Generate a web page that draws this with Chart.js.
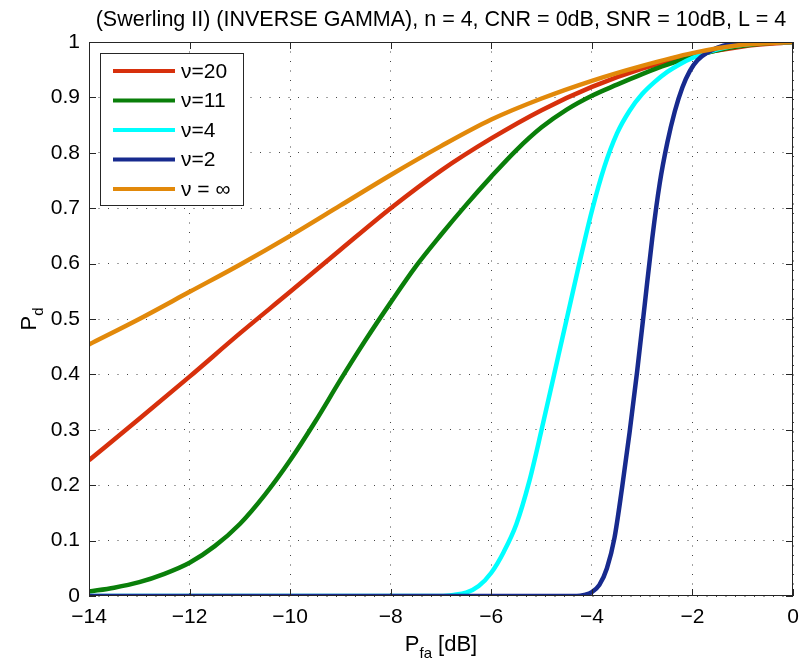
<!DOCTYPE html>
<html>
<head>
<meta charset="utf-8">
<script src="https://cdn.jsdelivr.net/npm/chart.js@4/dist/chart.umd.min.js"></script>
<style>
  html, body { margin: 0; padding: 0; background: #fff; }
  canvas { display: block; }
</style>
</head>
<body>
<canvas id="c" width="801" height="664"></canvas>
<script>
// ---- data ----
const titleText = "(Swerling II) (INVERSE GAMMA), n = 4, CNR = 0dB, SNR = 10dB, L = 4";
const seriesLabels = ["\u03bd=20", "\u03bd=11", "\u03bd=4", "\u03bd=2", "\u03bd = \u221e"];
const seriesColors = ["#d7300c", "#0a7f0a", "#00ffff", "#172a8e", "#e2890a"];

const xNu20 = [-14,-13,-12,-11,-10,-9,-8,-7,-6,-5,-4,-3,-2,-1,0];
const yNu20 = [0.245,0.32,0.396,0.474,0.549,0.625,0.70,0.768,0.826,0.877,0.919,0.952,0.976,0.992,1.0];

const xNu11 = [-14,-13.5,-13,-12.5,-12,-11.5,-11,-10.5,-10,-9.5,-9,-8.5,-8,-7.5,-7,-6.5,-6,-5.5,-5,-4.5,-4,-3.5,-3,-2.5,-2,-1.5,-1,-0.5,0];
const yNu11 = [0.008,0.015,0.025,0.04,0.06,0.09,0.13,0.183,0.245,0.315,0.39,0.462,0.53,0.595,0.652,0.706,0.757,0.805,0.846,0.878,0.903,0.923,0.942,0.959,0.973,0.985,0.993,0.998,1.0];

const xNu4 = [-14,-7,-6.75,-6.5,-6.25,-6,-5.75,-5.5,-5.25,-5,-4.75,-4.5,-4.25,-4,-3.75,-3.5,-3.25,-3,-2.75,-2.5,-2.25,-2,-1.75,-1.5,-1.25,-1,-0.5,0];
const yNu4 = [0,0,0.002,0.006,0.018,0.042,0.08,0.13,0.205,0.30,0.40,0.50,0.60,0.695,0.775,0.835,0.876,0.906,0.928,0.946,0.96,0.971,0.98,0.987,0.992,0.995,0.999,1.0];

const xNu2 = [-14,-4.3,-4.15,-4.0,-3.85,-3.7,-3.55,-3.4,-3.25,-3.1,-2.95,-2.8,-2.65,-2.5,-2.35,-2.2,-2.05,-1.9,-1.7,-1.5,-1.25,-0.9,-0.5,0];
const yNu2 = [0,0,0.002,0.007,0.02,0.05,0.105,0.195,0.295,0.405,0.525,0.645,0.745,0.818,0.875,0.918,0.948,0.967,0.981,0.99,0.996,0.999,1.0,1.0];

const xInf = [-14,-13,-12,-11,-10,-9,-8,-7,-6,-5,-4,-3,-2,-1,0];
const yInf = [0.454,0.50,0.549,0.598,0.65,0.705,0.76,0.812,0.86,0.898,0.93,0.957,0.98,0.995,1.0];

const xTicks = [-14,-12,-10,-8,-6,-4,-2,0];
const yTicks = [0,0.1,0.2,0.3,0.4,0.5,0.6,0.7,0.8,0.9,1];

const seriesX = [xNu20, xNu11, xNu4, xNu2, xInf];
const seriesY = [yNu20, yNu11, yNu4, yNu2, yInf];

const FONT = "'Liberation Sans', Arial, Helvetica, sans-serif";

function pts(xs, ys) { return xs.map((x, i) => ({ x: x, y: ys[i] })); }

// later series in legend order are drawn on top (as in the reference)
const datasets = seriesLabels.map((lab, i) => ({
  label: lab,
  data: pts(seriesX[i], seriesY[i]),
  borderColor: seriesColors[i],
  backgroundColor: seriesColors[i],
  borderWidth: 4.5,
  pointRadius: 0,
  fill: false,
  cubicInterpolationMode: 'monotone',
  order: seriesLabels.length - i
}));

function fmt(v) {
  const s = (Math.round(v * 10) / 10).toString();
  return v < 0 ? '\u2212' + s.substring(1) : s;
}

const matlabPlugin = {
  id: 'matlabDeco',
  afterDraw(chart) {
    const ctx = chart.ctx;
    const a = chart.chartArea;
    const xs = chart.scales.x, ys = chart.scales.y;
    ctx.save();
    // frame
    ctx.strokeStyle = '#262626';
    ctx.lineWidth = 1;
    ctx.strokeRect(Math.round(a.left) + 0.5, Math.round(a.top) + 0.5, Math.round(a.right - a.left) - 1, Math.round(a.bottom - a.top) - 1);
    // inward tick marks on all four sides
    const tl = 7;
    ctx.beginPath();
    xTicks.forEach(v => {
      const px = Math.round(xs.getPixelForValue(v)) + 0.5;
      ctx.moveTo(px, a.bottom); ctx.lineTo(px, a.bottom - tl);
      ctx.moveTo(px, a.top); ctx.lineTo(px, a.top + tl);
    });
    yTicks.forEach(v => {
      const py = Math.round(ys.getPixelForValue(v)) + 0.5;
      ctx.moveTo(a.left, py); ctx.lineTo(a.left + tl, py);
      ctx.moveTo(a.right, py); ctx.lineTo(a.right - tl, py);
    });
    ctx.stroke();

    // title
    ctx.fillStyle = '#000';
    ctx.font = '21.5px ' + FONT;
    ctx.textAlign = 'center';
    ctx.textBaseline = 'alphabetic';
    ctx.fillText(titleText, (a.left + a.right) / 2, 26);

    // x axis title: P_fa [dB]
    const cx = (a.left + a.right) / 2;
    ctx.textAlign = 'left';
    const big = '22px ' + FONT, small = '15px ' + FONT;
    ctx.font = big; const wP = ctx.measureText('P').width;
    ctx.font = small; const wSub = ctx.measureText('fa').width;
    ctx.font = big; const wRest = ctx.measureText(' [dB]').width;
    let x0 = cx - (wP + wSub + wRest) / 2;
    const by = 651;
    ctx.font = big; ctx.fillText('P', x0, by);
    ctx.font = small; ctx.fillText('fa', x0 + wP, by + 7);
    ctx.font = big; ctx.fillText(' [dB]', x0 + wP + wSub, by);

    // y axis title: P_d (rotated)
    ctx.save();
    ctx.translate(36, (a.top + a.bottom) / 2);
    ctx.rotate(-Math.PI / 2);
    ctx.font = big; const wP2 = ctx.measureText('P').width;
    ctx.font = small; const wd = ctx.measureText('d').width;
    const x1 = -(wP2 + wd) / 2;
    ctx.font = big; ctx.fillText('P', x1, 0);
    ctx.font = small; ctx.fillText('d', x1 + wP2, 7);
    ctx.restore();

    // legend box
    const lx = 100, ly = 53, lw = 143, lh = 152;
    ctx.fillStyle = '#fff';
    ctx.fillRect(lx, ly, lw, lh);
    ctx.strokeStyle = '#262626';
    ctx.lineWidth = 1;
    ctx.strokeRect(lx + 0.5, ly + 0.5, lw, lh);
    ctx.font = '21px ' + FONT;
    ctx.textBaseline = 'middle';
    seriesLabels.forEach((lab, i) => {
      const yy = ly + 18 + i * 29.5;
      ctx.strokeStyle = seriesColors[i];
      ctx.lineWidth = 4;
      ctx.beginPath();
      ctx.moveTo(113, yy); ctx.lineTo(175, yy);
      ctx.stroke();
      ctx.fillStyle = '#000';
      ctx.fillText(lab, 181, yy + 1);
    });
    ctx.restore();
  }
};

new Chart(document.getElementById('c'), {
  type: 'line',
  data: { datasets: datasets },
  options: {
    responsive: false,
    animation: false,
    devicePixelRatio: 1,
    layout: { padding: { top: 42, right: 8, left: 0, bottom: 0 } },
    plugins: { legend: { display: false }, title: { display: false }, tooltip: { enabled: false } },
    scales: {
      x: {
        type: 'linear', min: -14, max: 0,
        afterFit: s => { s.height = 68; s.paddingLeft = 0; s.paddingRight = 0; },
        afterBuildTicks: s => { s.ticks = xTicks.map(v => ({ value: v })); },
        ticks: { color: '#000', font: { size: 21, family: FONT }, padding: 9, callback: v => fmt(v), maxRotation: 0, autoSkip: false },
        grid: { color: '#444', lineWidth: 1, drawTicks: false },
        border: { display: false, dash: [1, 8.5] }
      },
      y: {
        type: 'linear', min: 0, max: 1,
        afterFit: s => { s.width = 89; s.paddingTop = 0; s.paddingBottom = 0; },
        afterBuildTicks: s => { s.ticks = yTicks.map(v => ({ value: v })); },
        ticks: { color: '#000', font: { size: 21, family: FONT }, padding: 9, callback: v => fmt(v), autoSkip: false },
        grid: { color: '#444', lineWidth: 1, drawTicks: false },
        border: { display: false, dash: [1, 8.5] }
      }
    }
  },
  plugins: [matlabPlugin]
});
</script>
</body>
</html>
